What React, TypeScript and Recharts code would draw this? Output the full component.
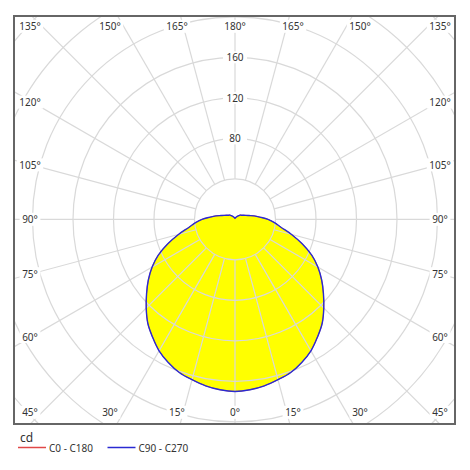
import { RadarChart, Radar, PolarGrid, PolarAngleAxis, PolarRadiusAxis } from 'recharts'

// gamma angles in degrees, 0 = straight down, 180 = straight up
const gamma = [0, 5, 10, 15, 20, 25, 30, 35, 40, 45, 50, 55, 60, 65, 70, 75, 80, 85, 90, 95, 100, 105, 110, 115, 120, 125, 130, 135, 140, 145, 150, 155, 160, 165, 170, 175, 180]

// luminous intensity (cd) per gamma angle, one list per C-plane half
const c0 = [170, 169, 167, 164, 161, 156, 150, 142, 134, 124, 114, 104.5, 94.6, 83.6, 70.6, 57.8, 46.4, 39.5, 32.6, 24.7, 19.3, 14.3, 11.4, 9.4, 7.9, 7.1, 6.5, 5.1, 4, 3.2, 2.6, 2.2, 1.8, 1.5, 1.3, 1.1, 1]
const c180 = [170, 169, 167, 164, 161, 156, 150, 142, 134, 124, 114, 104.5, 94.6, 83.6, 70.6, 57.8, 46.4, 39.5, 32.6, 24.7, 19.3, 14.3, 11.4, 9.4, 7.9, 7.1, 6.5, 5.1, 4, 3.2, 2.6, 2.2, 1.8, 1.5, 1.3, 1.1, 1]
const c90 = [170, 169, 167, 164, 161, 156, 150, 142, 134, 124, 114, 104.5, 94.6, 83.6, 70.6, 57.8, 46.4, 39.5, 32.6, 24.7, 19.3, 14.3, 11.4, 9.4, 7.9, 7.1, 6.5, 5.1, 4, 3.2, 2.6, 2.2, 1.8, 1.5, 1.3, 1.1, 1]
const c270 = [170, 169, 167, 164, 161, 156, 150, 142, 134, 124, 114, 104.5, 94.6, 83.6, 70.6, 57.8, 46.4, 39.5, 32.6, 24.7, 19.3, 14.3, 11.4, 9.4, 7.9, 7.1, 6.5, 5.1, 4, 3.2, 2.6, 2.2, 1.8, 1.5, 1.3, 1.1, 1]

// grid
const spokeGamma = [0, 15, 30, 45, 60, 75, 90, 105, 120, 135, 150, 165, 180]
const ringValues = [40, 80, 120, 160, 200, 240, 280]
const ringLabels = [80, 120, 160]

const legendItems = [
  { name: 'C0 - C180', color: '#e04848' },
  { name: 'C90 - C270', color: '#2a2ad2' },
]

// chart is drawn clockwise starting at the bottom: left half first, then right half
const rows = [
  ...gamma.map((g, i) => ({ name: `L${g}`, g, c0: c180[i], c90: c270[i] })),
  ...gamma
    .map((g, i) => ({ name: `R${g}`, g, c0: c0[i], c90: c90[i] }))
    .slice(1, -1)
    .reverse(),
]
const spokeRows = [
  ...spokeGamma.map((g) => ({ name: `L${g}` })),
  ...spokeGamma.slice(1, -1).reverse().map((g) => ({ name: `R${g}` })),
]

const W = 439
const H = 406
const CX = 220
const CY = 202.3
const RMAX = ringValues[ringValues.length - 1]
const OUTER = 283.5
const GRID = '#d9d9d9'
const FONT = "'Noto Sans', sans-serif"
const NOMARGIN = { top: 0, right: 0, bottom: 0, left: 0 }

const clamp = (v: number, lo: number, hi: number) => Math.max(lo, Math.min(hi, v))

// closed smooth outline through the points the Radar computed
function SmoothShape(props: any) {
  const pts: { x: number; y: number }[] = props.points || []
  const n = pts.length
  if (!n) return null
  let d = `M${pts[0].x},${pts[0].y}`
  for (let i = 0; i < n; i++) {
    const p0 = pts[(i - 1 + n) % n]
    const p1 = pts[i]
    const p2 = pts[(i + 1) % n]
    const p3 = pts[(i + 2) % n]
    const c1x = p1.x + (p2.x - p0.x) / 6
    const c1y = p1.y + (p2.y - p0.y) / 6
    const c2x = p2.x - (p3.x - p1.x) / 6
    const c2y = p2.y - (p3.y - p1.y) / 6
    d += `C${c1x},${c1y} ${c2x},${c2y} ${p2.x},${p2.y}`
  }
  d += 'Z'
  return (
    <path
      d={d}
      fill={props.fill}
      fillOpacity={props.fillOpacity}
      stroke={props.stroke}
      strokeWidth={props.strokeWidth}
      strokeLinejoin="round"
    />
  )
}

function AngleTick(props: any) {
  const { payload } = props
  const g = Number(String(payload.value).slice(1))
  if (!spokeGamma.includes(g)) return null
  const rad = (payload.coordinate * Math.PI) / 180
  const ux = Math.cos(rad)
  const uy = -Math.sin(rad)
  const tSide = Math.abs(ux) > 1e-6 ? 203 / Math.abs(ux) : Infinity
  const tTop = Math.abs(uy) > 1e-6 ? 216.5 / Math.abs(uy) : Infinity
  let dx: number
  let dy: number
  if (tSide < tTop) {
    dx = Math.sign(ux) * 205
    dy = clamp(uy * tSide, -193, 193)
  } else {
    dy = Math.sign(uy) * 193
    dx = clamp(ux * tTop, -205, 205)
  }
  const x = CX + dx
  const y = CY + dy
  const text = `${g}°`
  const w = text.length * 5.6 + 4
  return (
    <g>
      <rect x={x - w / 2} y={y - 6.5} width={w} height={13} fill="#fff" />
      <text x={x} y={y} textAnchor="middle" dominantBaseline="central" fontSize={10} fontFamily={FONT} fill="#333">
        {text}
      </text>
    </g>
  )
}

function RingTick(props: any) {
  const { x, y, payload } = props
  if (!ringLabels.includes(payload.value)) return null
  return (
    <g>
      <rect x={x - 12} y={y - 6} width={24} height={12} fill="#fff" />
      <text x={x} y={y} textAnchor="middle" dominantBaseline="central" fontSize={10} fontFamily={FONT} fill="#333">
        {payload.value}
      </text>
    </g>
  )
}

const layer: React.CSSProperties = { position: 'absolute', left: 0, top: 0 }

export default function App() {
  const spokeInner = (ringValues[0] / RMAX) * OUTER
  return (
    <div style={{ position: 'fixed', left: 0, top: 0, width: 470, height: 470, background: '#fff', fontFamily: FONT }}>
      <div
        style={{
          position: 'absolute',
          left: 13,
          top: 15,
          width: W,
          height: H,
          border: '2px solid #666',
          overflow: 'hidden',
        }}
      >
        {/* fill */}
        <div style={layer}>
          <RadarChart width={W} height={H} data={rows} cx={CX} cy={CY} outerRadius={OUTER} startAngle={270} endAngle={-90} margin={NOMARGIN}>
            <PolarAngleAxis dataKey="name" tick={false} axisLine={false} tickLine={false} />
            <PolarRadiusAxis domain={[0, RMAX]} tickCount={ringValues.length + 1} tick={false} axisLine={false} tickLine={false} />
            <Radar dataKey="c0" stroke="none" fill="#ffff00" fillOpacity={1} shape={SmoothShape} isAnimationActive={false} />
            <Radar dataKey="c90" stroke="none" fill="#ffff00" fillOpacity={1} shape={SmoothShape} isAnimationActive={false} />
          </RadarChart>
        </div>
        {/* spokes, starting at the first ring */}
        <div style={layer}>
          <RadarChart width={W} height={H} data={spokeRows} cx={CX} cy={CY} innerRadius={spokeInner} outerRadius={340} startAngle={270} endAngle={-90} margin={NOMARGIN}>
            <PolarGrid gridType="circle" polarRadius={[]} stroke={GRID} strokeWidth={1.2} />
            <PolarAngleAxis dataKey="name" tick={false} axisLine={false} tickLine={false} />
            <PolarRadiusAxis tick={false} axisLine={false} tickLine={false} />
          </RadarChart>
        </div>
        {/* rings, curves, labels */}
        <div style={layer}>
          <RadarChart width={W} height={H} data={rows} cx={CX} cy={CY} outerRadius={OUTER} startAngle={270} endAngle={-90} margin={NOMARGIN}>
            <PolarGrid gridType="circle" radialLines={false} stroke={GRID} strokeWidth={1.2} />
            <Radar dataKey="c0" stroke={legendItems[0].color} strokeWidth={0.8} fill="none" fillOpacity={0} shape={SmoothShape} dot={false} isAnimationActive={false} />
            <Radar dataKey="c90" stroke={legendItems[1].color} strokeWidth={1.4} fill="none" fillOpacity={0} shape={SmoothShape} dot={false} isAnimationActive={false} />
            <PolarAngleAxis dataKey="name" tick={AngleTick} axisLine={false} tickLine={false} />
            <PolarRadiusAxis
              angle={90}
              domain={[0, RMAX]}
              tickCount={ringValues.length + 1}
              tick={RingTick}
              axisLine={false}
              tickLine={false}
            />
          </RadarChart>
        </div>
      </div>
      <svg width={470} height={42} style={{ position: 'absolute', left: 0, top: 428 }}>
        <text x={20} y={14} fontSize={12} fontFamily={FONT} fill="#333">
          cd
        </text>
        {legendItems.map((item, i) => {
          const x0 = i === 0 ? 18 : 107.5
          return (
            <g key={item.name}>
              <line x1={x0} x2={x0 + 28} y1={19.5} y2={19.5} stroke={item.color} strokeWidth={1.5} />
              <text x={x0 + 31} y={23.5} fontSize={10} fontFamily={FONT} fill="#333">
                {item.name}
              </text>
            </g>
          )
        })}
      </svg>
    </div>
  )
}
